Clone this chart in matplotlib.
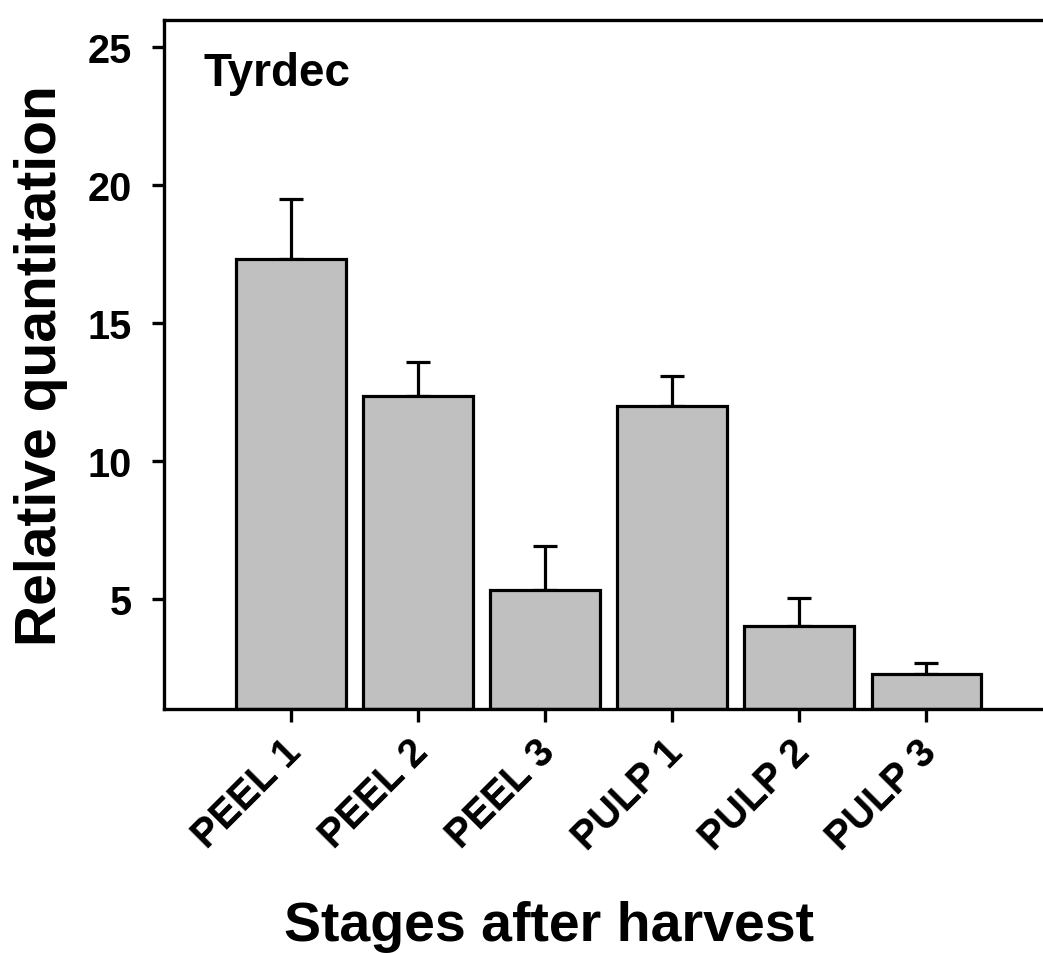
import numpy as np
import matplotlib.pyplot as plt
import matplotlib.transforms as mtransforms

stages = ["PEEL 1", "PEEL 2", "PEEL 3", "PULP 1", "PULP 2", "PULP 3"]
means = [17.3, 12.35, 5.3, 11.97, 4.0, 2.28]
errors = [2.2, 1.22, 1.6, 1.1, 1.02, 0.4]

plt.rcParams['font.family'] = ['Liberation Sans', 'DejaVu Sans']
plt.rcParams['font.weight'] = 'bold'

fig = plt.figure(figsize=(10.43, 9.54), dpi=100)
ax = fig.add_axes([0.1572, 0.2558, 0.8428, 0.7227])

base = 1.0
x = np.arange(1, len(stages) + 1)
heights = [m - base for m in means]
ax.bar(x, heights, bottom=base, width=0.86, color='#c0c0c0',
       edgecolor='black', linewidth=2.3, zorder=2)
ax.errorbar(x, means, yerr=[np.zeros(len(errors)), errors], fmt='none',
            ecolor='black', elinewidth=2.3, capsize=8.5, capthick=2.3, zorder=1)

ax.set_xlim(0, 6.92)
ax.set_ylim(1, 26)
ax.set_yticks([5, 10, 15, 20, 25])
ax.set_xticks(x)
ax.set_xticklabels(stages, rotation=45, ha='right', rotation_mode='anchor')

for side in ['left', 'bottom', 'top']:
    ax.spines[side].set_linewidth(2.4)
ax.spines['right'].set_visible(False)

ax.tick_params(axis='both', direction='out', length=9, width=2.4, labelsize=28.5)
ax.tick_params(axis='y', pad=14)
ax.tick_params(axis='x', pad=12)

# nudge the slanted labels a bit left and up
shift = mtransforms.ScaledTranslation(-9 / 100, 6 / 100, fig.dpi_scale_trans)
for tick in ax.xaxis.get_major_ticks():
    tick.label1.set_transform(tick.label1.get_transform() + shift)

ax.set_ylabel("Relative quantitation", fontsize=41, fontweight='bold', labelpad=14)
ax.set_xlabel("Stages after harvest", fontsize=40, fontweight='bold')
ax.xaxis.set_label_coords(0.438, -0.277)
ax.text(0.045, 0.955, "Tyrdec", transform=ax.transAxes, fontsize=33,
        fontweight='bold', va='top', ha='left')

fig.savefig("out.png", dpi=100)
